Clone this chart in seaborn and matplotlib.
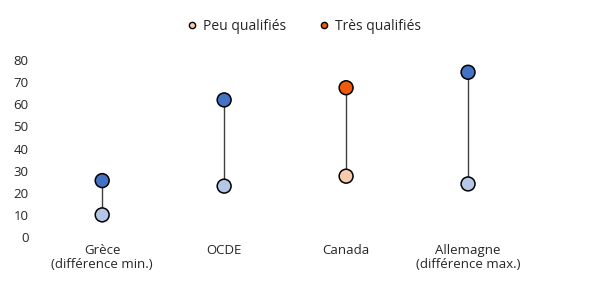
import pandas as pd
import matplotlib.pyplot as plt
import seaborn as sns
from matplotlib.lines import Line2D

pays = ['Grèce\n(différence min.)', 'OCDE', 'Canada', 'Allemagne\n(différence max.)']
peu_qualifies = [10, 23, 27.5, 24]
tres_qualifies = [25.5, 62, 67.5, 74.5]
y_ticks = [0, 10, 20, 30, 40, 50, 60, 70, 80]

# couleurs : Canada mis en évidence
couleurs_peu = ['#B4C7E7', '#B4C7E7', '#F8CBAD', '#B4C7E7']
couleurs_tres = ['#4472C4', '#4472C4', '#F05A0A', '#4472C4']

df = pd.DataFrame({
    'pays': pays * 2,
    'x': list(range(len(pays))) * 2,
    'valeur': peu_qualifies + tres_qualifies,
    'couleur': couleurs_peu + couleurs_tres,
})

sns.set_style('white')
plt.rcParams['font.family'] = ['Open Sans', 'DejaVu Sans']

fig = plt.figure(figsize=(6.06, 2.89), dpi=100)
ax = fig.add_axes([0.068, 0.18, 0.805, 0.612])

ax.vlines(range(len(pays)), peu_qualifies, tres_qualifies, color='#404040', linewidth=1, zorder=1)
sns.scatterplot(data=df, x='x', y='valeur', hue='couleur',
                palette={c: c for c in df['couleur'].unique()},
                s=100, edgecolor='black', linewidth=1.1, legend=False, zorder=3, ax=ax)

ax.set_xlim(-0.5, 3.5)
ax.set_ylim(0, 80)
ax.set_yticks(y_ticks)
ax.set_xticks(range(len(pays)))
ax.set_xticklabels(pays, fontsize=9.5, linespacing=1.15)
ax.tick_params(axis='y', labelsize=9.5, length=0, pad=9)
ax.tick_params(axis='x', length=0, pad=5)
ax.set_xlabel('')
ax.set_ylabel('')
sns.despine(ax=ax, left=True, bottom=True)

handles = [
    Line2D([], [], marker='o', linestyle='', markerfacecolor='#F8CBAD', markeredgecolor='black', markersize=4.5),
    Line2D([], [], marker='o', linestyle='', markerfacecolor='#F05A0A', markeredgecolor='black', markersize=4.5),
]
fig.legend(handles, ['Peu qualifiés', 'Très qualifiés'], loc='center', bbox_to_anchor=(0.5, 0.91),
           ncol=2, frameon=False, fontsize=10, handletextpad=0.3, columnspacing=2.2, handlelength=1)

fig.savefig('out.png', dpi=100)
